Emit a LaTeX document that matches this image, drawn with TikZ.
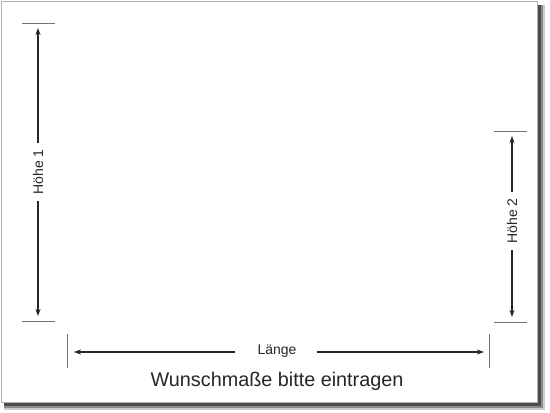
\documentclass[tikz,border=0pt]{standalone}
\usepackage{fontspec}
\setmainfont{Liberation Sans}
\usetikzlibrary{arrows.meta}
\begin{document}
\begin{tikzpicture}[x=1pt,y=-1pt,
  arr/.style={draw=black!85,line width=1.2pt,-{Stealth[length=7pt,width=5pt]}},
  tick/.style={draw=black!55,line width=1pt},
  lab/.style={font=\fontsize{14}{16}\selectfont,text=black!85,inner sep=0pt},
  title/.style={font=\fontsize{19.8}{22}\selectfont,text=black!85,inner sep=0pt}]
\useasboundingbox (0,0) rectangle (550,413);
\fill[white] (0,0) rectangle (550,413);
% shadow
\fill[black!20] (4,5) rectangle (545,410);
\fill[black!45] (4,5) rectangle (543,408);
\fill[black!70] (4,5) rectangle (541,406);
% sheet
\filldraw[fill=white,draw=black!30,line width=0.8pt] (1,1) rectangle (537,402);
% Höhe 1
\draw[tick] (22,23) coordinate (h1ta) -- (55,23) coordinate (h1tb);
\draw[tick] (22,321) coordinate (h1ba) -- (55,321) coordinate (h1bb);
\coordinate (h1t) at (38,28);
\coordinate (h1b) at (38,316);
\node[lab,rotate=90] (h1) at (38,172) {Höhe 1};
\draw[arr] (h1.east) ++(0,-6) -- (h1t);
\draw[arr] (h1.west) ++(0,6) -- (h1b);
% Höhe 2
\draw[tick] (494,131) -- (527,131);
\draw[tick] (494,322) -- (527,322);
\coordinate (h2t) at (512,136);
\coordinate (h2b) at (512,317);
\node[lab,rotate=90] (h2) at (512,221) {Höhe 2};
\draw[arr] (h2.east) ++(0,-6) -- (h2t);
\draw[arr] (h2.west) ++(0,6) -- (h2b);
% Länge
\draw[tick] (67,334) -- (67,368);
\draw[tick] (489,334) -- (489,368);
\coordinate (lt) at (74,352);
\coordinate (rt) at (484,352);
\node[lab] (l) at (277,351) {Länge};
\draw[arr] (l.west) ++(-22,1) -- (lt);
\draw[arr] (l.east) ++(20,1) -- (rt);
% title
\node[title] (t) at (277,381) {Wunschmaße bitte eintragen};
\end{tikzpicture}
\end{document}
